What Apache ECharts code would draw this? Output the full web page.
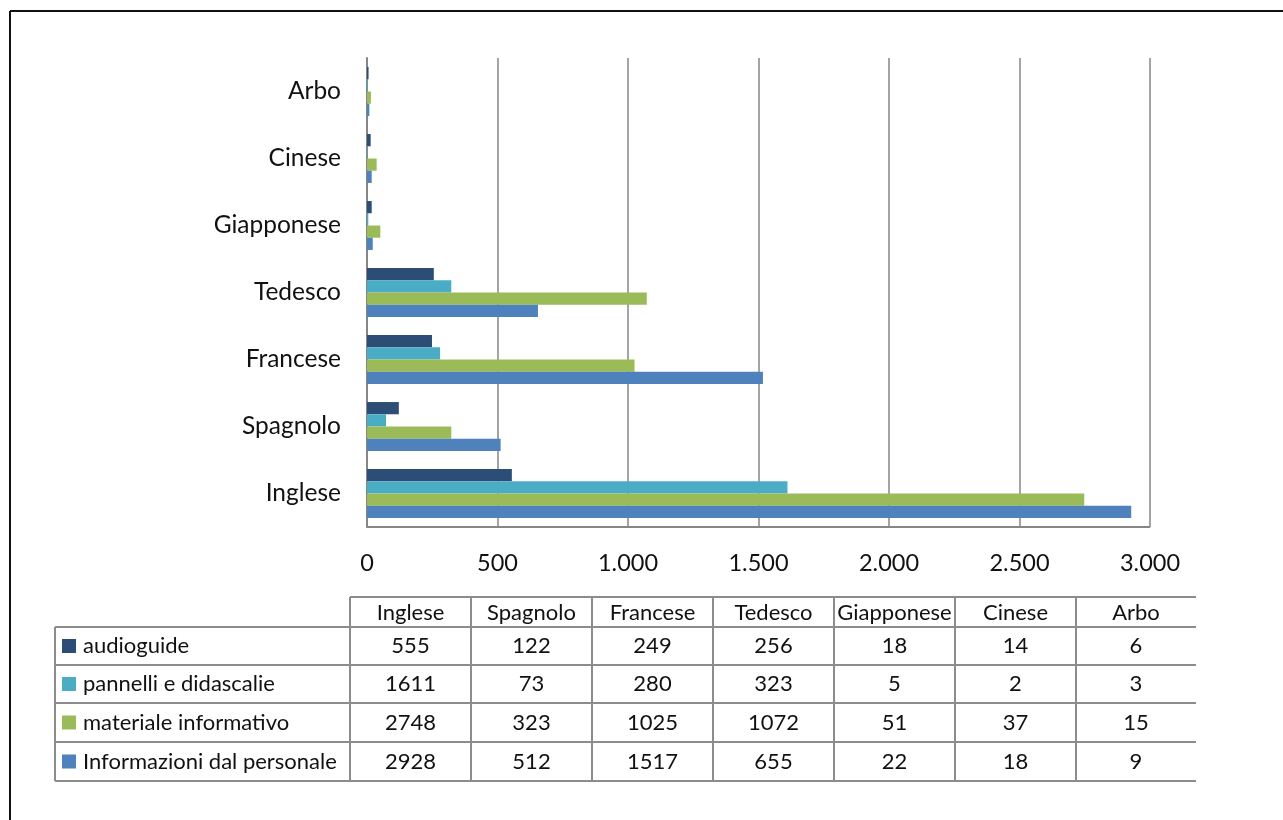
<!DOCTYPE html>
<html>
<head>
<meta charset="utf-8">
<script src="https://cdn.jsdelivr.net/npm/echarts@6/dist/echarts.min.js"></script>
<style>
  html, body { margin: 0; padding: 0; background: #fff; }
  #chart { width: 1283px; height: 820px; }
</style>
</head>
<body>
<div id="chart"></div>
<script>
const categories = ['Inglese', 'Spagnolo', 'Francese', 'Tedesco', 'Giapponese', 'Cinese', 'Arbo']
const seriesNames = ['audioguide', 'pannelli e didascalie', 'materiale informativo', 'Informazioni dal personale']
const audioguide = [555, 122, 249, 256, 18, 14, 6]
const pannelli = [1611, 73, 280, 323, 5, 2, 3]
const materiale = [2748, 323, 1025, 1072, 51, 37, 15]
const personale = [2928, 512, 1517, 655, 22, 18, 9]
const colors = ['#2C4D75', '#4BACC6', '#9BBB59', '#4F81BD']

const font = 'Lato, "Open Sans", sans-serif'
const chart = echarts.init(document.getElementById('chart'))

// table geometry
const colX = [350, 471, 592, 713, 834, 955, 1076, 1196]
const rowY = [597, 627, 665, 703, 742, 781]
const tableLeft = 55
const lineColor = '#8c8c8c'
const rows = [audioguide, pannelli, materiale, personale]
const tFont = '22px ' + font

function line(x1, y1, x2, y2) {
  return { type: 'line', shape: { x1, y1, x2, y2 }, style: { stroke: lineColor, lineWidth: 2 }, silent: true }
}

const g = []
// outer frame
g.push({ type: 'line', shape: { x1: 10, y1: 11, x2: 1283, y2: 11 }, style: { stroke: '#111', lineWidth: 2 } })
g.push({ type: 'line', shape: { x1: 10, y1: 11, x2: 10, y2: 820 }, style: { stroke: '#111', lineWidth: 2 } })
// horizontal lines
g.push(line(colX[0], rowY[0], colX[7], rowY[0]))
for (let i = 1; i < rowY.length; i++) g.push(line(tableLeft, rowY[i], colX[7], rowY[i]))
// vertical lines
g.push(line(tableLeft, rowY[1], tableLeft, rowY[5]))
for (let i = 0; i < colX.length - 1; i++) g.push(line(colX[i], rowY[0], colX[i], rowY[5]))
// header
categories.forEach((c, i) => {
  g.push({ type: 'text', x: (colX[i] + colX[i + 1]) / 2, y: (rowY[0] + rowY[1]) / 2 + 1,
    style: { text: c, font: tFont, fill: '#111', align: 'center', verticalAlign: 'middle' } })
})
// rows
seriesNames.forEach((name, r) => {
  const cy = (rowY[r + 1] + rowY[r + 2]) / 2
  g.push({ type: 'rect', shape: { x: 62, y: cy - 7, width: 14, height: 14 }, style: { fill: colors[r] } })
  g.push({ type: 'text', x: 83, y: cy, style: { text: name, font: tFont, fill: '#111', verticalAlign: 'middle' } })
  rows[r].forEach((v, i) => {
    g.push({ type: 'text', x: (colX[i] + colX[i + 1]) / 2, y: cy,
      style: { text: String(v), font: tFont, fill: '#111', align: 'center', verticalAlign: 'middle' } })
  })
})

chart.setOption({
  animation: false,
  backgroundColor: '#fff',
  grid: { left: 367, right: 133, top: 58, bottom: 293, containLabel: false },
  xAxis: {
    type: 'value', min: 0, max: 3000, interval: 500,
    axisLine: { show: false },
    axisTick: { show: false },
    splitLine: { show: true, lineStyle: { color: '#868686', width: 1.5 } },
    axisLabel: {
      margin: 24, fontSize: 23.5, color: '#111', fontFamily: font,
      formatter: v => v.toString().replace(/\B(?=(\d{3})+(?!\d))/g, '.')
    }
  },
  yAxis: {
    type: 'category', data: categories,
    axisLine: { show: true, lineStyle: { color: '#868686', width: 2 } },
    axisTick: { show: false },
    splitLine: { show: false },
    axisLabel: { margin: 26, fontSize: 24.5, color: '#111', fontFamily: font }
  },
  graphic: g.concat([
    { type: 'line', shape: { x1: 367, y1: 527, x2: 1150, y2: 527 }, style: { stroke: '#868686', lineWidth: 2 }, z: 100 }
  ]),
  // first series sits at the top of each band
  series: seriesNames.map((name, k) => ({
    type: 'bar', name, data: rows[k],
    itemStyle: { color: colors[k] },
    barGap: '0%', barCategoryGap: '27%'
  }))
})
</script>
</body>
</html>
